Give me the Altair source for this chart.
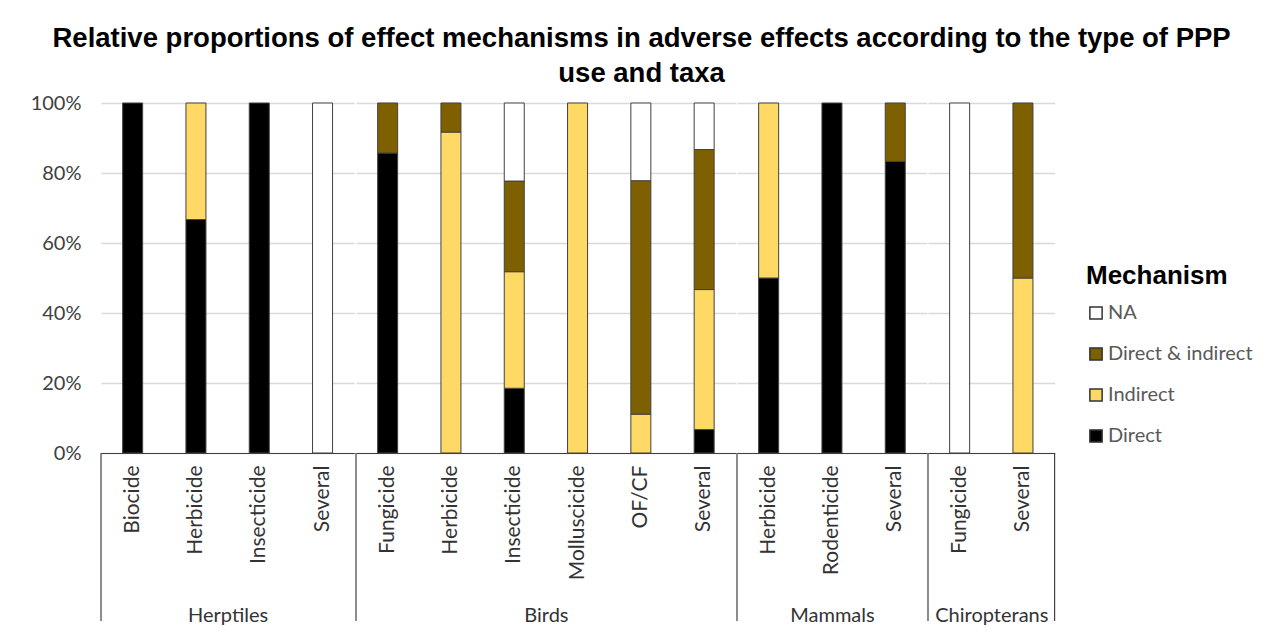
import altair as alt
import pandas as pd

# ---- data ----
taxa_names = ["Herptiles", "Birds", "Mammals", "Chiropterans"]
taxon = ["Herptiles"] * 4 + ["Birds"] * 6 + ["Mammals"] * 3 + ["Chiropterans"] * 2
use = ["Biocide", "Herbicide", "Insecticide", "Several",
       "Fungicide", "Herbicide", "Insecticide", "Molluscicide", "OF/CF", "Several",
       "Herbicide", "Rodenticide", "Several",
       "Fungicide", "Several"]
direct =          [100, 66.7, 100, 0,   85.7, 0,    18.5, 0,   0,    6.7,  50, 100, 83.3, 0,   0]
indirect =        [0,   33.3, 0,   0,   0,    91.7, 33.3, 100, 11.1, 40.0, 50, 0,   0,    0,   50]
direct_indirect = [0,   0,    0,   0,   14.3, 8.3,  25.9, 0,   66.7, 40.0, 0,  0,   16.7, 0,   50]
na =              [0,   0,    0,   100, 0,    0,    22.3, 0,   22.2, 13.3, 0,  0,   0,    100, 0]

mechanisms = ["NA", "Direct & indirect", "Indirect", "Direct"]
colors = ["#FFFFFF", "#7F6000", "#FFD966", "#000000"]
stack_order = {"Direct": 0, "Indirect": 1, "Direct & indirect": 2, "NA": 3}

title_lines = ["Relative proportions of effect mechanisms in adverse effects according to the type of PPP",
               "use and taxa"]

rows = []
series = {"Direct": direct, "Indirect": indirect,
          "Direct & indirect": direct_indirect, "NA": na}
for i, (t, u) in enumerate(zip(taxon, use)):
    for m, vals in series.items():
        if vals[i] > 0:
            rows.append({"taxon": t, "use": u, "mechanism": m,
                         "value": vals[i], "ord": stack_order[m]})
df = pd.DataFrame(rows)

STEP = 63.3
H = 350
FONT = "Lato"
LINE = "#404040"

legend = alt.Legend(title="Mechanism", orient="none", legendX=985, legendY=160,
                    titleFont="Liberation Sans", titleFontSize=26, titleFontWeight="bold",
                    titleColor="black", titlePadding=14,
                    labelFont=FONT, labelFontSize=20, labelColor="#595959",
                    symbolType="square", symbolSize=150, symbolStrokeColor="#333333",
                    symbolStrokeWidth=1.5, rowPadding=21, labelOffset=2)

panels = []
for k, tx in enumerate(taxa_names):
    sub = df[df.taxon == tx]
    order_uses = [u for t, u in zip(taxon, use) if t == tx]
    w = len(order_uses) * STEP
    if k == 0:
        yaxis = alt.Axis(format=".0%", values=[0, 0.2, 0.4, 0.6, 0.8, 1.0], title=None,
                         labelFont=FONT, labelFontSize=20, labelColor="#404040",
                         labelPadding=20, domain=False, ticks=False,
                         gridColor="#d9d9d9", gridWidth=1.5)
    else:
        yaxis = alt.Axis(values=[0, 0.2, 0.4, 0.6, 0.8, 1.0], title=None, labels=False,
                         domain=False, ticks=False, gridColor="#d9d9d9", gridWidth=1.5)
    bars = alt.Chart(sub).mark_bar(size=20, stroke=LINE, strokeWidth=1).encode(
        x=alt.X("use:N", sort=order_uses,
                scale=alt.Scale(paddingInner=0, paddingOuter=0),
                axis=alt.Axis(title=tx, labelAngle=270, labelFont=FONT, labelFontSize=21,
                              labelColor="#333333", labelPadding=12, ticks=False,
                              domainColor=LINE, domainWidth=1.2,
                              titleFont=FONT, titleFontSize=20, titleFontWeight="normal",
                              titleColor="#333333", titleY=162, titleBaseline="middle")),
        y=alt.Y("value:Q", stack="normalize", scale=alt.Scale(domain=[0, 1]), axis=yaxis),
        color=alt.Color("mechanism:N", scale=alt.Scale(domain=mechanisms, range=colors),
                        legend=legend),
        order=alt.Order("ord:Q"),
    )
    edge_df = pd.DataFrame({"e": [0]})
    layers = [bars,
              alt.Chart(edge_df).mark_rule(color=LINE, strokeWidth=1.2).encode(
                  x=alt.value(0), y=alt.value(H), y2=alt.value(H + 168))]
    if k == len(taxa_names) - 1:
        layers.append(alt.Chart(edge_df).mark_rule(color=LINE, strokeWidth=1.2).encode(
            x=alt.value(w), y=alt.value(H), y2=alt.value(H + 168)))
    panels.append(alt.layer(*layers).properties(width=w, height=H))

chart = alt.hconcat(*panels, spacing=0).properties(
    title=alt.TitleParams(text=title_lines, font="Liberation Sans", fontSize=27.5,
                          fontWeight="bold", color="black", lineHeight=35,
                          anchor="middle", offset=6),
    padding={"left": 22, "top": 16, "right": 10, "bottom": 0},
).configure_view(stroke=None)

chart.save("out.html", embed_options={"renderer": "svg", "actions": False})
